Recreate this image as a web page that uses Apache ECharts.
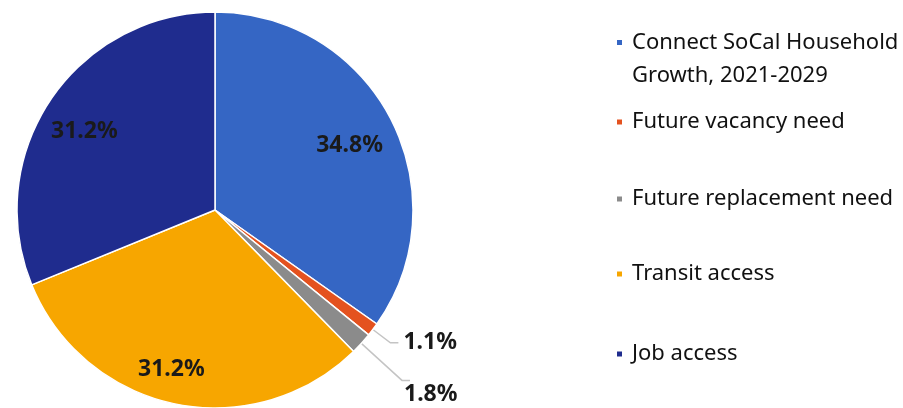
<!DOCTYPE html>
<html>
<head>
<meta charset="utf-8">
<script src="https://cdn.jsdelivr.net/npm/echarts@6/dist/echarts.min.js"></script>
<style>
html,body{margin:0;padding:0;background:#fff;}
#chart{width:903px;height:408px;}
</style>
</head>
<body>
<div id="chart"></div>
<script>
var categories = ['Connect SoCal Household Growth, 2021-2029', 'Future vacancy need', 'Future replacement need', 'Transit access', 'Job access'];
var values = [34.8, 1.1, 1.8, 31.2, 31.2];
var colors = ['#3566c4', '#e4521f', '#8b8b8b', '#f7a600', '#1f2c8e'];
var legendTops = [40, 120, 197, 272, 352];

var insideOffsets = [[44, -18], null, null, [-23, 60], [-46, -22]];
var outsideLines = [null, [22, 8], [55, 8], null, null];

var data = categories.map(function (c, i) {
  var d = { name: c, value: values[i], itemStyle: { color: colors[i] } };
  if (insideOffsets[i]) {
    d.label = { position: 'inside', offset: insideOffsets[i] };
    d.labelLine = { show: false };
  } else {
    d.label = { position: 'outside' };
    d.labelLine = { show: true, length: outsideLines[i][0], length2: outsideLines[i][1] };
  }
  return d;
});

var legends = categories.map(function (c, i) {
  var lg = {
    data: [c],
    orient: 'vertical',
    left: 615,
    padding: 0,
    itemWidth: 7,
    itemHeight: 7,
    itemGap: 0,
    icon: 'rect',
    textStyle: { fontFamily: 'Noto Sans', fontSize: 22, color: '#111', padding: [0, 0, 0, 4] },
    selectedMode: false
  };
  if (i === 0) {
    lg.formatter = function () { return '\nConnect SoCal Household\nGrowth, 2021-2029'; };
    lg.textStyle.lineHeight = 33;
    lg.top = legendTops[i] - 47;
  } else {
    lg.top = legendTops[i] - 9;
  }
  return lg;
});

var chart = echarts.init(document.getElementById('chart'));
chart.setOption({
  animation: false,
  legend: legends,
  series: [{
    type: 'pie',
    center: [215, 210],
    radius: 198,
    startAngle: 90,
    clockwise: true,
    avoidLabelOverlap: false,
    itemStyle: { borderColor: '#fff', borderWidth: 1.5 },
    label: {
      formatter: function (p) { return p.value.toFixed(1) + '%'; },
      fontFamily: 'Noto Sans',
      fontWeight: 'bold',
      fontSize: 23,
      color: '#1a1a1a'
    },
    labelLine: { lineStyle: { color: '#c4c4c4', width: 1.5 } },
    labelLayout: function (p) {
      if (p.dataIndex === 2) { return { dx: -11, dy: 14 }; }
      return {};
    },
    emphasis: { disabled: true },
    data: data
  }]
});
</script>
</body>
</html>
